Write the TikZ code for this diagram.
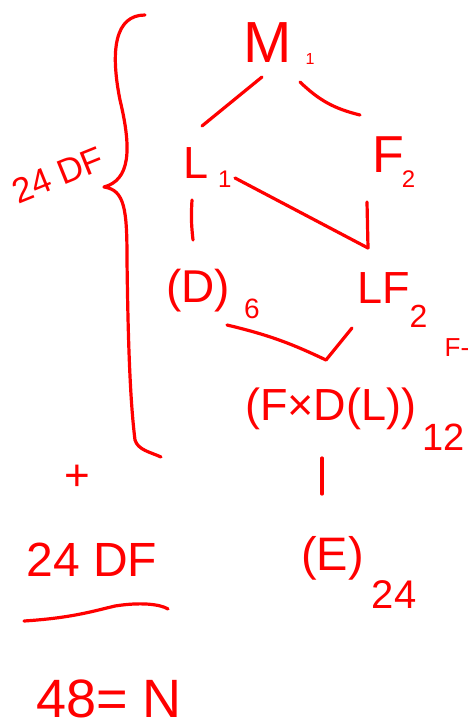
\documentclass[tikz,border=0pt]{standalone}
\usepackage{fontspec}
\setmainfont{Liberation Sans}
\usetikzlibrary{positioning}
\definecolor{inkred}{HTML}{FF0000}
% gap, drop, size, text
\newcommand{\subx}[4]{\hspace{#1}\raisebox{-#2}{\fontsize{#3}{#3}\selectfont #4}}

\begin{document}
\begin{tikzpicture}[
      x=1pt, y=-1pt,
      ink/.style={draw=inkred,line width=3.2pt,line cap=round,line join=round},
      lbl/.style={text=inkred,inner sep=0pt,anchor=base west,font=\fontsize{45}{45}\selectfont},
      note/.style={text=inkred,inner sep=0pt,font=\fontsize{48}{48}\selectfont}
    ]
    \useasboundingbox (0,0) rectangle (474,725);
    % lattice
    \node[lbl,font=\fontsize{58}{58}\selectfont] (m1) at (243,63) {M\subx{14pt}{2pt}{16}{1}};
    \node[lbl] (l1) at (183,178) {L\subx{10pt}{9pt}{24}{1}};
    \node[lbl,font=\fontsize{52}{52}\selectfont] (f2) at (372,172) {F\subx{-2pt}{15pt}{24}{2}};
    \node[lbl,font=\fontsize{46}{46}\selectfont] (d6) at (166,302) {(D)\subx{14pt}{16pt}{28}{6}};
    \node[lbl] (lf2) at (357,303) {LF\subx{0pt}{24pt}{32}{2}};
    \node[lbl,font=\fontsize{26}{26}\selectfont,anchor=center] (fm) at (457,348) {F-};
    \node[lbl] (fdl) at (245,420) {(F\texttimes D(L))\subx{6pt}{30pt}{38}{12}};
    \node[lbl,font=\fontsize{47}{47}\selectfont] (e24) at (301,570) {(E)\subx{8pt}{38pt}{40}{24}};
    \draw[ink] ([shift={(19,14)}]m1.base west) -- ([shift={(19,-52)}]l1.base west);
    \draw[ink] ([shift={(57,19)}]m1.base west) to[bend right=15] ([shift={(-12,-57)}]f2.base west);
    \draw[ink] ([shift={(52,0)}]l1.base west) -- ([shift={(11,-55)}]lf2.base west);
    \draw[ink] ([shift={(-5,30)}]f2.base west) -- ([shift={(11,-55)}]lf2.base west);
    \draw[ink] ([shift={(9,22)}]l1.base west) to[bend right=5] ([shift={(27,-62)}]d6.base west);
    \draw[ink] ([shift={(61,23)}]d6.base west) to[bend left=6] ([shift={(81,-60)}]fdl.base west);
    \draw[ink] ([shift={(-5,25)}]lf2.base west) -- ([shift={(81,-60)}]fdl.base west);
    \draw[ink] ([shift={(77,38)}]fdl.base west) -- ([shift={(21,-76)}]e24.base west);
    % brace and sum
    \draw[ink] (145,15) .. controls (115,15) and (110,50) .. (120,100)
      .. controls (132,150) and (130,180) .. (104,187)
      .. controls (125,190) and (127,210) .. (127,260)
      .. controls (128,340) and (130,400) .. (135,440)
      .. controls (138,450) and (150,452) .. (161,457);
    \node[note,font=\fontsize{35}{35}\selectfont,rotate=22] (dfa) at (58,175) {24 DF};
    \node[note,font=\fontsize{44}{44}\selectfont] (plus) at (77,478) {+};
    \node[note] (dfb) at (92,560) {24 DF};
    \draw[ink] (24,621) .. controls (70,618) and (90,612) .. (115,606)
      .. controls (140,602) and (160,604) .. (168,609);
    \node[note,font=\fontsize{54}{54}\selectfont,anchor=base west] (sum) at (36,717) {48= N};
\end{tikzpicture}
\end{document}
